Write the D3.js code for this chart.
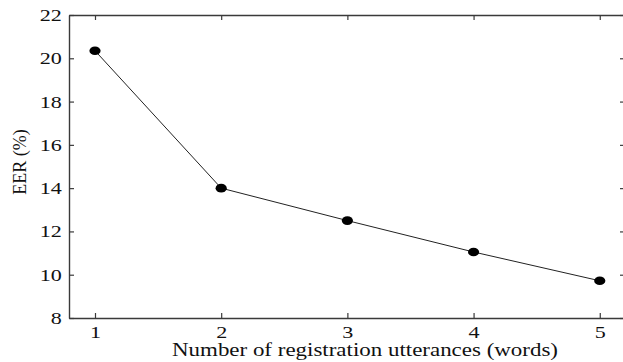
<!DOCTYPE html>
<html>
<head>
<meta charset="utf-8">
<script src="https://cdn.jsdelivr.net/npm/d3@7"></script>
<style>
  body { margin: 0; background: #fff; }
</style>
</head>
<body>
<svg id="chart" width="623" height="362"></svg>
<script>
// data
const utterances = [1, 2, 3, 4, 5];
const eer = [20.35, 14.0, 12.5, 11.05, 9.72];
const yTicks = [8, 10, 12, 14, 16, 18, 20, 22];

const serif = "'Liberation Serif'";
const margin = {left: 69, top: 15, right: -2, bottom: 44};
const width = 623, height = 362;
const stretch = 1.3; // the original figure is stretched sideways

const svg = d3.select('#chart');

const x = d3.scaleLinear()
  .domain([0.794, 5.2])
  .range([margin.left, width - margin.right]);
const y = d3.scaleLinear()
  .domain([8, 22])
  .range([height - margin.bottom, margin.top]);

const axisColor = '#3a3a3a';

// bottom axis, ticks pointing inward
const gx = svg.append('g')
  .attr('transform', 'translate(0,' + y(8) + ')')
  .call(d3.axisBottom(x).tickValues(utterances).tickSizeInner(-5).tickSizeOuter(0).tickPadding(8).tickFormat(d3.format('d')));

// top axis, ticks only
const gxt = svg.append('g')
  .attr('transform', 'translate(0,' + y(22) + ')')
  .call(d3.axisTop(x).tickValues(utterances).tickSizeInner(-5).tickSizeOuter(0).tickFormat(''));

// left axis
const gy = svg.append('g')
  .attr('transform', 'translate(' + x.range()[0] + ',0)')
  .call(d3.axisLeft(y).tickValues(yTicks).tickSizeInner(-5).tickSizeOuter(0).tickPadding(5.5));

// right axis, ticks only
const gyr = svg.append('g')
  .attr('transform', 'translate(' + x.range()[1] + ',0)')
  .call(d3.axisRight(y).tickValues(yTicks).tickSizeInner(-5).tickSizeOuter(0).tickFormat(''));

[gx, gxt, gy, gyr].forEach(g => {
  g.select('.domain').attr('stroke', axisColor).attr('stroke-width', 1.4);
  g.selectAll('.tick line').attr('stroke', axisColor).attr('stroke-width', 1.2);
  g.selectAll('.tick text')
    .style('font-family', serif)
    .style('font-size', '17px')
    .attr('fill', '#111')
    .attr('transform', 'scale(' + stretch + ',1)');
});

// the line
const pts = utterances.map((u, i) => [u, eer[i]]);
svg.append('path')
  .datum(pts)
  .attr('fill', 'none')
  .attr('stroke', '#222')
  .attr('stroke-width', 1)
  .attr('d', d3.line().x(d => x(d[0])).y(d => y(d[1])));

svg.selectAll('ellipse.pt')
  .data(pts)
  .enter()
  .append('ellipse')
  .attr('class', 'pt')
  .attr('cx', d => x(d[0]))
  .attr('cy', d => y(d[1]))
  .attr('rx', 5.6)
  .attr('ry', 4.3)
  .attr('fill', '#000');

// axis labels
svg.append('text')
  .attr('x', 172)
  .attr('y', 356)
  .attr('textLength', 386)
  .attr('lengthAdjust', 'spacingAndGlyphs')
  .style('font-family', serif)
  .style('font-size', '18px')
  .attr('fill', '#111')
  .text('Number of registration utterances (words)');

svg.append('text')
  .attr('transform', 'translate(26,162) rotate(-90)')
  .attr('text-anchor', 'middle')
  .style('font-family', serif)
  .style('font-size', '18px')
  .attr('fill', '#111')
  .text('EER (%)');
</script>
</body>
</html>
